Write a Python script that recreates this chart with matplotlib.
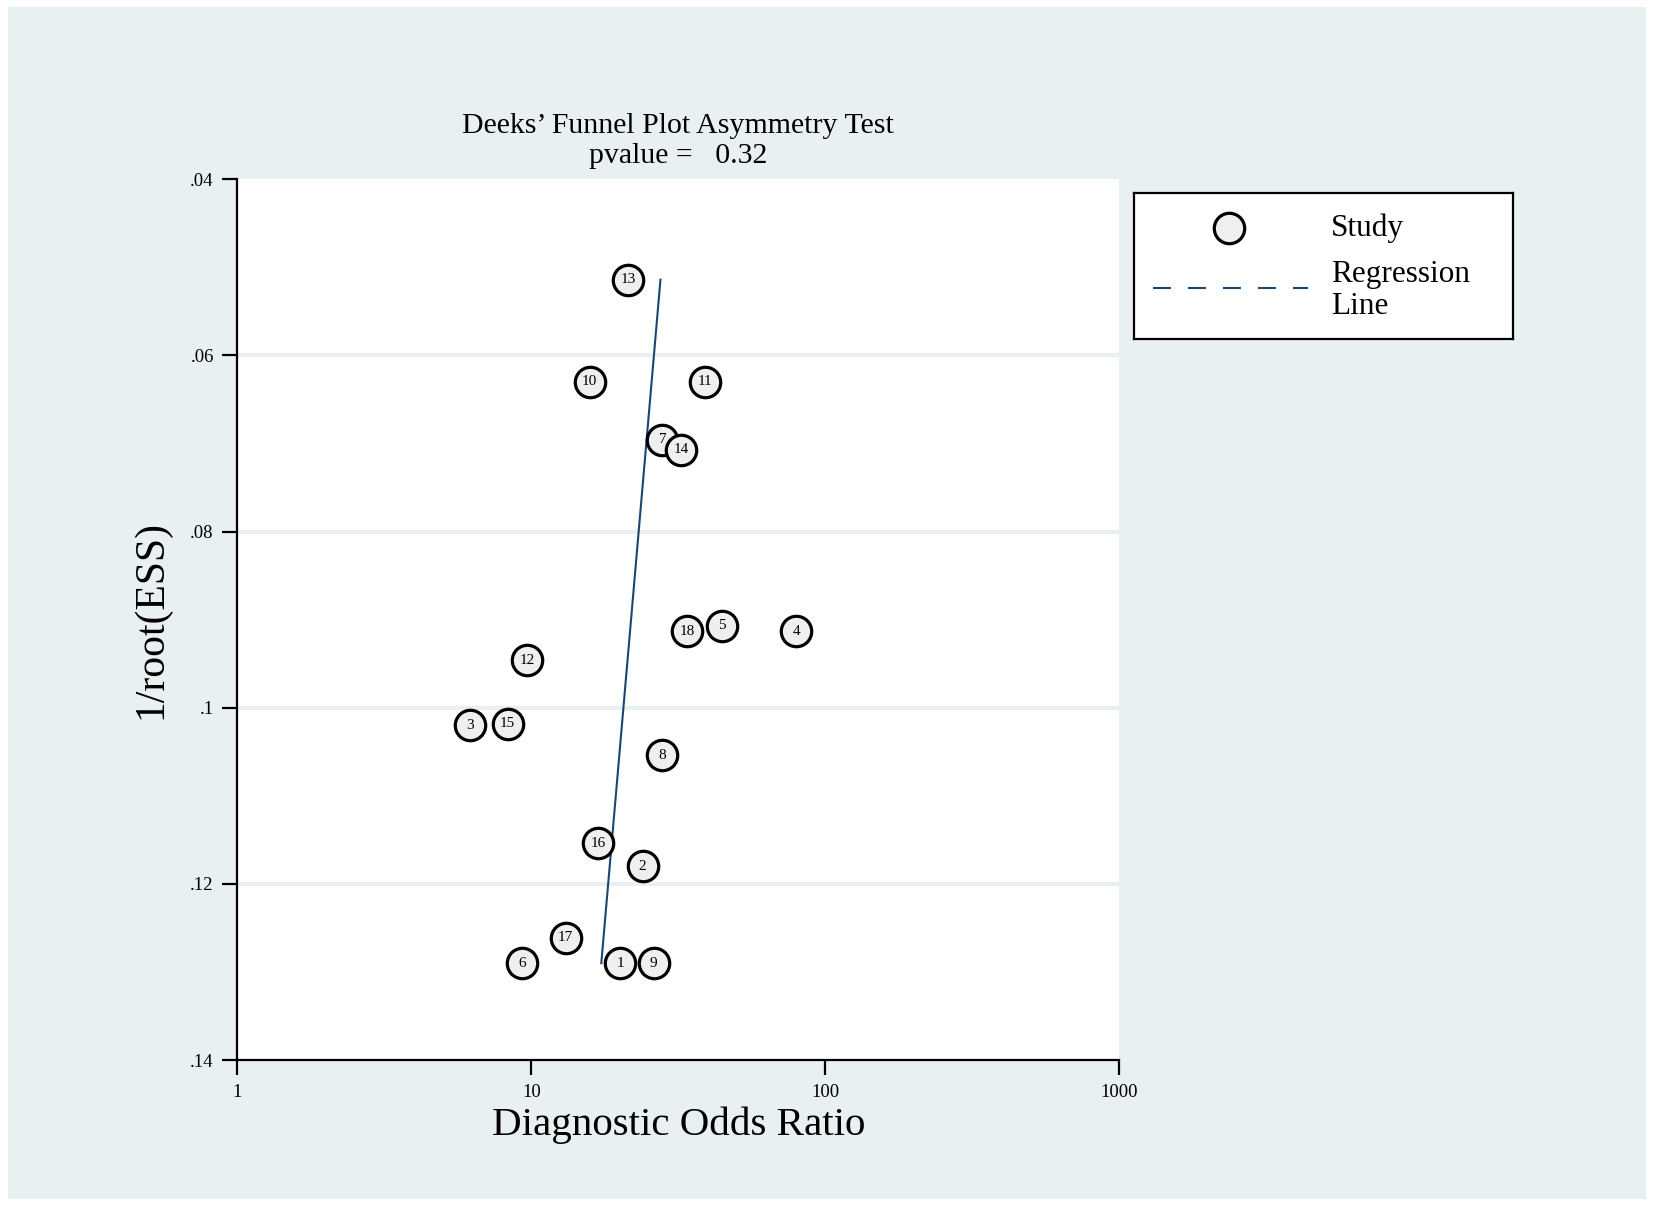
import numpy as np
import matplotlib as mpl

mpl.use('Agg')
import matplotlib.pyplot as plt
from matplotlib.patches import Rectangle

plt.rcParams['font.family'] = ['Liberation Serif', 'DejaVu Serif']

# Study data
study_ids = [1, 2, 3, 4, 5, 6, 7, 8, 9, 10, 11, 12, 13, 14, 15, 16, 17, 18]
dor = [20.1, 23.9, 6.2, 79.7, 44.4, 9.3, 27.9, 27.9, 26.1,
       15.8, 38.9, 9.7, 21.3, 32.4, 8.3, 16.9, 13.1, 33.8]
inv_root_ess = [0.1290, 0.1180, 0.1020, 0.0913, 0.0907, 0.1290, 0.0696, 0.1054, 0.1290,
                0.0630, 0.0630, 0.0946, 0.0514, 0.0707, 0.1018, 0.1154, 0.1261, 0.0913]

# Regression line end points
reg_x = [27.5, 17.3]
reg_y = [0.0514, 0.1290]

x_ticks = [1, 10, 100, 1000]
x_tick_labels = ['1', '10', '100', '1000']
y_ticks = [0.04, 0.06, 0.08, 0.10, 0.12, 0.14]
y_tick_labels = ['.04', '.06', '.08', '.1', '.12', '.14']
grid_y = [0.06, 0.08, 0.10, 0.12]

bg = '#e9f0f2'
navy = '#1a476f'

fig = plt.figure(figsize=(16.54, 12.06), dpi=100)
fig.patch.set_facecolor('white')
fig.patches.append(Rectangle((0.005, 0.006), 0.990, 0.988, transform=fig.transFigure,
                             facecolor=bg, edgecolor='none', zorder=-10))

ax = fig.add_axes([0.1435, 0.1210, 0.5332, 0.7304])
ax.set_facecolor('white')
ax.set_xscale('log')
ax.set_xlim(1, 1000)
ax.set_ylim(0.14, 0.04)

for g in grid_y:
    ax.axhline(g, color=bg, lw=3, zorder=0)

ax.plot(reg_x, reg_y, color=navy, lw=1.5, zorder=2)
ax.scatter(dor, inv_root_ess, s=480, facecolor='#efefef', edgecolor='black',
           linewidth=2.3, zorder=3)
for sid, x, y in zip(study_ids, dor, inv_root_ess):
    ax.text(x, y, str(sid), ha='center', va='center', fontsize=11, zorder=4)

ax.set_xticks(x_ticks)
ax.set_xticklabels(x_tick_labels)
ax.xaxis.set_minor_locator(mpl.ticker.NullLocator())
ax.set_yticks(y_ticks)
ax.set_yticklabels(y_tick_labels)
ax.tick_params(axis='both', length=11, width=1.6, labelsize=13.5, pad=6)
for side in ['top', 'right']:
    ax.spines[side].set_visible(False)
for side in ['left', 'bottom']:
    ax.spines[side].set_linewidth(1.6)

ax.set_xlabel('Diagnostic Odds Ratio', fontsize=29.5, labelpad=4)
ax.set_ylabel('1/root(ESS)', fontsize=30, labelpad=14)
ax.set_title("Deeks\u2019 Funnel Plot Asymmetry Test\npvalue =   0.32",
             fontsize=21.5, linespacing=1.2, pad=12)

# legend box drawn by hand
lax = fig.add_axes([0.6856, 0.7189, 0.2291, 0.1211])
lax.set_xlim(0, 1)
lax.set_ylim(0, 1)
lax.set_xticks([])
lax.set_yticks([])
lax.set_facecolor('white')
for sp in lax.spines.values():
    sp.set_linewidth(1.6)
lax.scatter([0.25], [0.76], s=480, facecolor='#efefef', edgecolor='black', linewidth=2.3)
lax.text(0.52, 0.76, 'Study', fontsize=22.5, va='center')
lax.plot([0.05, 0.46], [0.35, 0.35], color=navy, lw=1.5, dashes=(8.6, 8.2))
lax.text(0.52, 0.44, 'Regression', fontsize=22.5, va='center')
lax.text(0.52, 0.22, 'Line', fontsize=22.5, va='center')

fig.savefig('out.png', dpi=100)
